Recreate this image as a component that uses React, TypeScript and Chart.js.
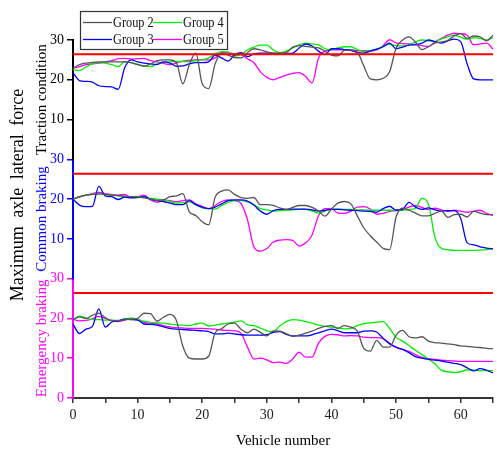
import React, { useEffect, useRef } from 'react';
import { Chart, registerables } from 'chart.js';

Chart.register(...registerables);

// ---------- data ----------
const vehicles = Array.from({ length: 66 }, (_, i) => i);
const xTickLabels = ['0', '10', '20', '30', '40', '50', '60'];
const groupNames = ['Group 2', 'Group 3', 'Group 4', 'Group 5'];
const limitValue = 26.4;

// Traction condition
const tractionG2 = [22.9, 23.8, 24.2, 24.4, 24.5, 24.5, 24.5, 24.5, 24.5, 24.3, 23.8, 23.4, 24, 24.8, 25, 25, 24.3, 19, 23.8, 26.7, 19, 17.8, 24, 26.7, 26.2, 25.6, 25.5, 26.8, 27.8, 27.5, 27, 26.7, 26.6, 26.8, 28.2, 28.6, 28.4, 28.2, 28, 27.2, 26.2, 26, 27.4, 27.5, 27, 23.5, 20.2, 20, 20.4, 22, 28, 30, 30.8, 29.5, 27.6, 28.3, 29.2, 29.5, 29.9, 31, 31.6, 30.4, 31, 30.8, 29.8, 31.2];
const tractionG3 = [21.8, 19.8, 19.6, 19.4, 18.5, 18.3, 18.2, 17.6, 23, 25, 24.5, 24.2, 24, 23.8, 24.5, 24.2, 23.4, 23.5, 24, 24.3, 24.3, 24.5, 26.2, 25.5, 24.7, 26.2, 26.8, 25.8, 26.5, 26.7, 26.7, 26.7, 26.6, 26.6, 26.7, 28, 29, 28.5, 27.2, 26.3, 27.8, 27.8, 27.6, 27.4, 26.8, 26.7, 27.2, 27.7, 28.3, 29.2, 27.8, 28.2, 28.7, 28.8, 29.2, 30, 29.6, 29.2, 29.8, 30.2, 29.6, 24, 20.2, 20, 20, 20];
const tractionG4 = [22.5, 22.3, 23.2, 24, 24.3, 24.2, 23.8, 23.3, 24.6, 24.3, 23.9, 23.5, 23.3, 24, 24.4, 24.5, 24.6, 24.6, 24.6, 24.8, 25, 25.5, 26.5, 27.1, 27, 26, 26.3, 27.5, 28.2, 28.7, 28.7, 27.5, 26.8, 27.2, 28, 28.8, 29.2, 29, 28.8, 27.8, 27.6, 28, 28.3, 28.3, 27.6, 27.1, 27.3, 27.7, 28.4, 28.9, 28.6, 28.5, 28.8, 29.5, 30, 29.8, 29.6, 30.3, 30.8, 31.2, 30.7, 30.2, 30.6, 30.4, 30, 30.6];
const tractionG5 = [22.9, 23.3, 23.8, 24, 24.2, 24.5, 24.8, 25.3, 25.4, 25.2, 25.3, 25.4, 24.8, 24.5, 24.1, 23.8, 24.2, 24.7, 24.9, 25, 25, 25, 25.5, 26.8, 26.8, 26.5, 26.3, 25.3, 24.3, 22, 20.6, 20, 20.6, 21.2, 21.6, 21.8, 20.8, 19.2, 25.5, 27.2, 27.5, 27.5, 27.6, 27.5, 27.3, 27.3, 27.3, 27.5, 28.6, 30.1, 29.3, 29.1, 29, 28.9, 28.6, 28.4, 29.5, 30.4, 31.2, 31.7, 31.6, 31.2, 28.8, 29, 29.2, 27.7];

// Common braking
const commonG2 = [20, 20.6, 21, 21.2, 21.3, 21.2, 21, 20.9, 20.8, 20.6, 20.5, 20.3, 20, 19.7, 19.8, 20.6, 20.8, 21.4, 16.8, 15.9, 14.3, 13.5, 20.5, 22, 22.3, 21.2, 20.4, 20.2, 20.4, 18.6, 18.6, 18.4, 17.8, 17.4, 17.9, 18.4, 18.4, 17.9, 17, 15.7, 17.5, 19, 19.4, 18.8, 15.8, 12.8, 10.8, 9.2, 7.6, 7.3, 15.5, 17.7, 17.2, 16.5, 15.8, 15.8, 16.4, 17, 15.4, 16.1, 16.2, 15.5, 16.9, 16.5, 16.1, 16.1];
const commonG3 = [20, 18.5, 18.1, 18.2, 23.2, 20.8, 20.6, 19.9, 20.5, 20.3, 20.4, 20.6, 20, 19.6, 19.4, 19, 18.6, 18.6, 19.6, 18.6, 18, 17.6, 18, 18.8, 19.6, 19.8, 19.8, 19.5, 18.5, 17, 16.2, 17.1, 17.4, 17.4, 17.5, 17.5, 17.5, 17.3, 17, 17.2, 17.4, 17.4, 17.3, 17.2, 17.1, 17, 16.9, 16.7, 17.6, 18.2, 17.2, 17.4, 19.2, 18, 17.4, 17.8, 17.3, 17, 17.1, 17.1, 15.2, 9, 8.5, 8, 7.7, 7.5];
const commonG4 = [20, 20.6, 21, 21.2, 21.3, 21.2, 21, 20.8, 20.5, 20.6, 20.7, 20.4, 20.2, 20, 19.8, 19.4, 19, 19.1, 19.3, 18.6, 17.8, 17.6, 17.5, 18.4, 19.2, 19.6, 19.6, 19.3, 18.6, 17.6, 17.3, 17, 17.1, 17.2, 17.3, 17.4, 17.4, 17, 16.5, 17, 17.5, 17.5, 17.4, 17.4, 17.3, 17.3, 17.2, 17.2, 17.2, 17.2, 17.2, 17.2, 17.4, 17.7, 20.2, 18.8, 10.5, 7.6, 7.3, 7.1, 7.1, 7.1, 7.1, 7.2, 7.3, 7.5];
const commonG5 = [20, 20.5, 21, 21.4, 21.7, 21.4, 21.1, 21, 21.2, 20.4, 20.6, 21, 19.8, 19.2, 19.8, 19.6, 19.3, 19.6, 19.8, 18.8, 18.2, 17.6, 18.4, 19.4, 19.8, 19.6, 18.9, 14.8, 8, 6.9, 7.6, 9.2, 9.7, 9.8, 9.6, 8.2, 9, 11, 15.8, 17.6, 17.6, 16.5, 16.4, 17, 18, 18.1, 17.5, 16.2, 16.4, 16.9, 17.1, 17.4, 18, 18.4, 17.9, 17.4, 17.7, 17.3, 16.9, 17.2, 17, 16.7, 17, 17.2, 16.4, 15.9];

// Emergency braking
const emergencyG2 = [19.7, 20.4, 20, 20.8, 21.3, 20.2, 19.4, 19.5, 19.7, 19.8, 20, 21.3, 21.2, 19.3, 20.3, 21, 19.5, 13, 10, 9.8, 9.8, 10.5, 16.4, 17.4, 18.6, 18.8, 17.3, 16.4, 17.3, 16.5, 15.6, 16.9, 16.8, 16.2, 15.5, 15.8, 16.3, 16.8, 17.5, 18, 18.2, 17.5, 18.2, 17.8, 16.8, 12.5, 11.8, 14.5, 12.8, 12.8, 15.8, 17, 15.4, 15.1, 15.4, 14.3, 13.9, 13.8, 13.6, 13.4, 13.1, 13, 12.8, 12.7, 12.5, 12.4];
const emergencyG3 = [18.6, 16.2, 17.3, 18, 22.4, 17.8, 19.1, 19.4, 19.8, 19.7, 19.6, 18.6, 18.5, 18.3, 17.9, 17.5, 17.3, 17.2, 17.1, 17, 16.9, 16.7, 16.1, 16.1, 16.3, 16.1, 15.9, 15.8, 15.8, 15.8, 15.9, 16.5, 16.7, 16, 15.6, 15.6, 15.6, 15.9, 16.4, 16.9, 17.3, 16.9, 16.4, 16.4, 16.4, 16.8, 16.9, 16.6, 15, 13.6, 12.8, 12.2, 11.4, 10.4, 10, 9.7, 9.5, 9.3, 9, 8.7, 8.4, 7.6, 6.8, 7.4, 7, 6.3];
const emergencyG4 = [19.7, 20.6, 20.1, 19.7, 19.7, 19.6, 19.6, 19.4, 19.9, 20.1, 19.7, 19.3, 19, 18.9, 18.8, 18.6, 18.4, 18.3, 18.2, 18.6, 18.8, 18.1, 18.3, 18.6, 18.8, 19.1, 19.4, 18.4, 18.2, 17.6, 16.9, 16.7, 18.1, 19.2, 19.7, 19.6, 19.2, 18.8, 18.3, 18, 17.8, 17.6, 17.4, 17.5, 18.2, 18.7, 18.9, 19.1, 19.2, 17.5, 15.3, 14.3, 13.2, 12, 10.9, 9.8, 8.6, 7, 6.6, 6.4, 6.6, 7.1, 7, 6.9, 6.9, 6.9];
const emergencyG5 = [19.8, 19.4, 19.5, 19.9, 20.5, 20, 19.5, 19.2, 19.6, 20, 19.8, 19, 18.8, 18.6, 18.2, 17.9, 17.7, 17.6, 17.5, 17.5, 17.5, 17.4, 17.3, 17.1, 17, 16.9, 16.3, 12.8, 9.8, 10, 9.6, 8.9, 9, 8.7, 9.8, 11.5, 10.3, 10.3, 13.8, 15.5, 16, 15.9, 15.6, 15.7, 15.6, 15.3, 15.2, 15.2, 14.9, 13.8, 12.7, 12.2, 11.7, 10.9, 10.2, 9.9, 9.7, 9.5, 9.4, 9.3, 9.2, 9.2, 9.2, 9.2, 9.2, 9.2];

// ---------- styles ----------
const FONT = '"Liberation Serif", "Times New Roman", serif';
const groupColors = ['#555555', '#0000ff', '#00ee00', '#ff00ff'];

const panels = [
  { id: 'yE', title: 'Emergency braking', color: '#ff00ff', series: [emergencyG2, emergencyG3, emergencyG4, emergencyG5], hideZero: false },
  { id: 'yC', title: 'Common braking', color: '#0000ff', series: [commonG2, commonG3, commonG4, commonG5], hideZero: true },
  { id: 'yT', title: 'Traction condition', color: '#000000', series: [tractionG2, tractionG3, tractionG4, tractionG5], hideZero: true },
];

const overlayPlugin = {
  id: 'overlay',
  afterDraw(chart: any) {
    const ctx = chart.ctx as CanvasRenderingContext2D;
    // outer y title
    ctx.save();
    ctx.translate(18, 195);
    ctx.rotate(-Math.PI / 2);
    ctx.font = `18px ${FONT}`;
    ctx.fillStyle = '#000';
    ctx.textAlign = 'center';
    ctx.textBaseline = 'middle';
    (ctx as any).wordSpacing = '4px';
    ctx.fillText('Maximum axle lateral force', 0, 0);
    ctx.restore();

    // legend box
    ctx.save();
    ctx.fillStyle = '#ffffff';
    ctx.fillRect(80, 11, 147, 38);
    ctx.strokeStyle = '#333';
    ctx.lineWidth = 1.2;
    ctx.strokeRect(80.5, 11.5, 147, 38);
    const slots = [
      { g: 0, x: 83, y: 22.5 },
      { g: 2, x: 153, y: 22.5 },
      { g: 1, x: 83, y: 39.5 },
      { g: 3, x: 153, y: 39.5 },
    ];
    for (const s of slots) {
      ctx.strokeStyle = groupColors[s.g];
      ctx.lineWidth = 1.3;
      ctx.beginPath();
      ctx.moveTo(s.x, s.y);
      ctx.lineTo(s.x + 29, s.y);
      ctx.stroke();
      ctx.save();
      ctx.translate(s.x + 30, s.y + 1);
      ctx.scale(0.82, 1);
      ctx.font = `15px ${FONT}`;
      ctx.fillStyle = '#111';
      ctx.textAlign = 'left';
      ctx.textBaseline = 'middle';
      ctx.fillText(groupNames[s.g], 0, 0);
      ctx.restore();
    }
    ctx.restore();
  },
};

export default function App() {
  const canvasRef = useRef<HTMLCanvasElement | null>(null);

  useEffect(() => {
    const canvas = canvasRef.current;
    if (!canvas) return;

    const datasets: any[] = [];
    panels.forEach((p) => {
      datasets.push({
        label: 'limit',
        data: [
          { x: vehicles[0], y: limitValue },
          { x: vehicles[vehicles.length - 1], y: limitValue },
        ],
        yAxisID: p.id,
        borderColor: '#ff0000',
        borderWidth: 2,
        pointRadius: 0,
        clip: false,
      });
      p.series.forEach((vals, gi) => {
        datasets.push({
          label: groupNames[gi],
          data: vehicles.map((x, i) => ({ x, y: vals[i] })),
          yAxisID: p.id,
          borderColor: groupColors[gi],
          borderWidth: 1.3,
          pointRadius: 0,
          cubicInterpolationMode: 'monotone',
          clip: false,
        });
      });
    });

    const scales: any = {
      x: {
        type: 'linear',
        position: 'bottom',
        min: 0,
        max: 65,
        ticks: {
          stepSize: 5,
          autoSkip: false,
          maxRotation: 0,
          padding: 4,
          color: '#222',
          font: { family: FONT, size: 14 },
          callback: (v: number) => (xTickLabels.includes(String(v)) ? String(v) : ''),
        },
        grid: { drawOnChartArea: false, drawTicks: true, tickLength: 5, color: '#333', lineWidth: 1.5 },
        border: { color: '#333', width: 2 },
        title: { display: true, text: 'Vehicle number', color: '#000', font: { family: FONT, size: 15 }, padding: { top: 0, bottom: 0 } },
        afterFit: (s: any) => {
          s.height = 52;
        },
      },
    };
    panels.forEach((p) => {
      scales[p.id] = {
        type: 'linear',
        position: 'left',
        stack: 'panels',
        stackWeight: 1,
        min: 0,
        max: 30,
        ticks: {
          stepSize: 10,
          padding: 3,
          color: p.color,
          font: { family: FONT, size: 14 },
          callback: (v: number) => (p.hideZero && v === 0 ? '' : String(v)),
        },
        grid: {
          drawOnChartArea: false,
          drawTicks: true,
          tickLength: 6,
          lineWidth: 1.5,
          color: (c: any) => (p.hideZero && c.tick && c.tick.value === 0 ? 'rgba(0,0,0,0)' : p.color),
        },
        border: { color: p.color, width: 2 },
        title: {
          display: true,
          text: p.title,
          color: p.color,
          font: { family: FONT, size: 15 },
          padding: { top: 33, bottom: 0 },
        },
        afterFit: (s: any) => {
          s.width = 73;
        },
      };
    });

    const chart = new Chart(canvas, {
      type: 'line',
      data: { datasets },
      options: {
        responsive: false,
        animation: false,
        devicePixelRatio: 1,
        layout: { padding: { top: 40, right: 1, bottom: 0, left: 0 } },
        plugins: { legend: { display: false }, tooltip: { enabled: false } },
        scales,
      },
      plugins: [overlayPlugin],
    } as any);

    return () => chart.destroy();
  }, []);

  return (
    <div style={{ position: 'fixed', left: 0, top: 0, width: 497, height: 450, background: '#fff' }}>
      <canvas ref={canvasRef} width={497} height={450} style={{ display: 'block' }} />
    </div>
  );
}
